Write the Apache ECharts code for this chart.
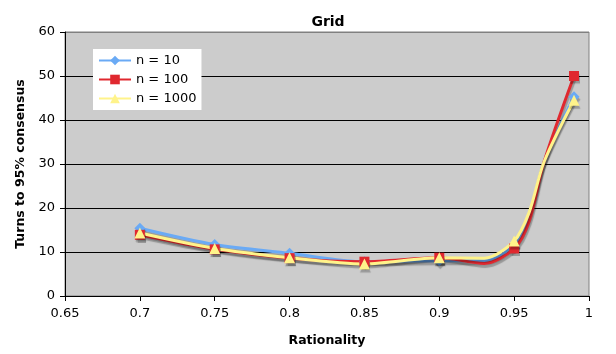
<!DOCTYPE html>
<html>
<head>
<meta charset="utf-8">
<script src="https://cdn.jsdelivr.net/npm/echarts@6/dist/echarts.min.js"></script>
<style>html,body{margin:0;padding:0;background:#fff}#c{width:616px;height:354px}</style>
</head>
<body>
<div id="c"></div>
<script>
// measured points (with markers)
const rationality = [0.7, 0.75, 0.8, 0.85, 0.9, 0.95, 0.99];
const n10 = [15.4, 11.7, 9.7, 7.8, 8.0, 11.5, 45.3];
const n100 = [13.9, 10.6, 8.6, 7.8, 8.7, 10.8, 50.0];
const n1000 = [14.3, 10.8, 8.7, 7.3, 8.7, 12.5, 44.5];
// points read off the drawn smooth curve between markers (no markers)
const curveX = [0.93, 0.96, 0.97];
const n10Curve = [8.0, 18.0, 30.5];
const n100Curve = [7.4, 17.0, 30.5];
const n1000Curve = [8.6, 19.0, 30.5];
const seriesNames = ['n = 10', 'n = 100', 'n = 1000'];
const xTicks = {min: 0.65, max: 1, interval: 0.05};
const yTicks = {min: 0, max: 60, interval: 10};

const font = 'DejaVu Sans';
function pts(vals, extra){
  const a = rationality.map((x,i)=>({value:[x, vals[i]]}));
  curveX.forEach((x,i)=>a.push({value:[x, extra[i]], symbol:'none'}));
  a.sort((p,q)=>p.value[0]-q.value[0]);
  return a;
}
const shadow = {shadowColor:'rgba(0,0,0,0.25)', shadowOffsetX:1, shadowOffsetY:3, shadowBlur:1};
function mk(name, vals, extra, color, symbol, size){
  return {
    name, type:'line', data: pts(vals, extra), smooth: 0.3,
    symbol, symbolSize: size, showAllSymbol: true,
    itemStyle:Object.assign({color: color}, shadow),
    lineStyle:Object.assign({color: color, width:3}, shadow),
    emphasis:{disabled:true}, animation:false
  };
}
const chart = echarts.init(document.getElementById('c'), null, {renderer:'canvas'});
chart.setOption({
  animation:false,
  title:{text:'Grid', left: 323, top: 10, textAlign:'center',
    textStyle:{fontFamily:font, fontSize:14, fontWeight:'bold', color:'#000'}},
  grid:{left:65, right:27, top:32, bottom:58, show:true, backgroundColor:'#cccccc', borderColor:'#808080', borderWidth:1},
  legend:{orient:'vertical', left:93, top:49, backgroundColor:'#ffffff', padding:[5,5,5,5],
    itemWidth:32, itemHeight:12, itemGap:6, data: seriesNames,
    textStyle:{fontFamily:font, fontSize:13, color:'#000'}},
  xAxis:{type:'value', min:xTicks.min, max:xTicks.max, interval:xTicks.interval,
    name:'Rationality', nameLocation:'middle', nameGap:38,
    nameTextStyle:{fontFamily:font, fontSize:12.5, fontWeight:'bold', color:'#000'},
    axisLine:{onZero:false, lineStyle:{color:'#000', width:1}},
    axisTick:{show:true, length:5, lineStyle:{color:'#000'}},
    axisLabel:{fontFamily:font, fontSize:13, color:'#000', margin:11},
    splitLine:{show:false}},
  yAxis:{type:'value', min:yTicks.min, max:yTicks.max, interval:yTicks.interval,
    name:'Turns to 95% consensus', nameLocation:'middle', nameGap:38, nameRotate:90,
    nameTextStyle:{fontFamily:font, fontSize:12.5, fontWeight:'bold', color:'#000'},
    axisLine:{show:true, lineStyle:{color:'#000', width:1}},
    axisTick:{show:true, length:5, lineStyle:{color:'#000'}},
    axisLabel:{fontFamily:font, fontSize:13, color:'#000', margin:10},
    splitLine:{show:true, lineStyle:{color:['#000','#000','#000','#000','#000','#000','#808080'], width:1}}},
  series:[
    mk(seriesNames[0], n10, n10Curve, '#6aaaf5', 'diamond', 11),
    mk(seriesNames[1], n100, n100Curve, '#e0282f', 'rect', 10),
    mk(seriesNames[2], n1000, n1000Curve, '#fff38a', 'triangle', 11)
  ]
});
</script>
</body>
</html>
